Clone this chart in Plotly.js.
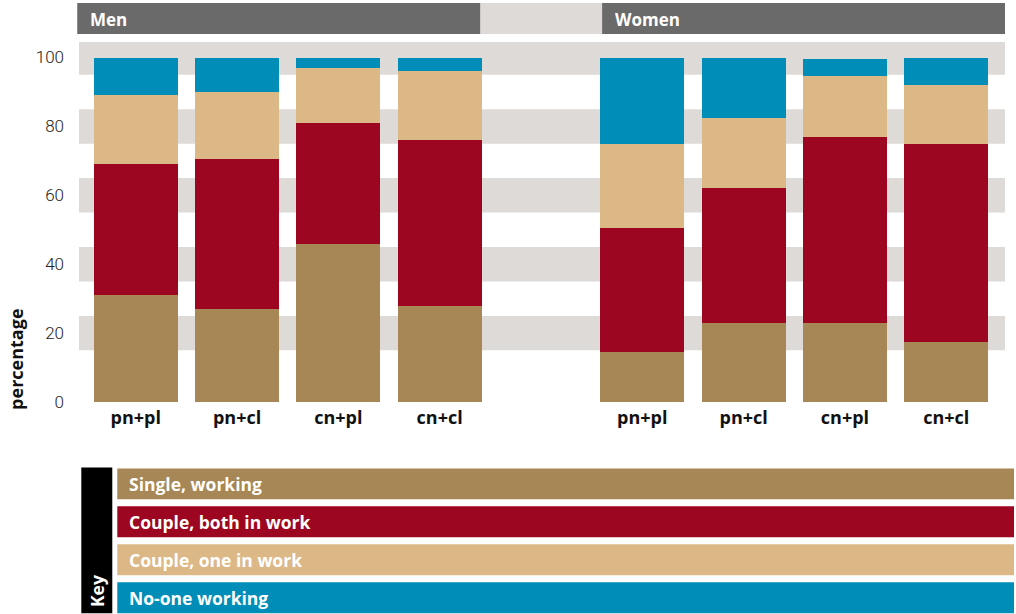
<!DOCTYPE html>
<html>
<head>
<meta charset="utf-8">
<script src="https://cdn.plot.ly/plotly-3.0.1.min.js"></script>
<style>html,body{margin:0;padding:0;background:#fff;}#chart{width:1016px;height:614px;}</style>
</head>
<body>
<div id="chart"></div>
<script>
// ---- data ----
const categories = ["pn+pl", "pn+cl", "cn+pl", "cn+cl", "pn+pl", "pn+cl", "cn+pl", "cn+cl"];
const positions = [0, 1, 2, 3, 5, 6, 7, 8];
const groups = ["Men", "Women"];
const seriesNames = ["Single, working", "Couple, both in work", "Couple, one in work", "No-one working"];
const singleWorking = [31, 27, 46, 28, 14.5, 23, 23, 17.5];
const coupleBoth = [38, 43.5, 35, 48, 36, 39, 54, 57.5];
const coupleOne = [20, 19.5, 16, 20, 24.5, 20.5, 17.5, 17];
const noOne = [11, 10, 3, 4, 25, 17.5, 5, 8];
const yTicks = [0, 20, 40, 60, 80, 100];
const keyTitle = "Key";
const yTitle = "percentage";

// ---- style ----
const colors = ["#A68755", "#9D0620", "#DDB887", "#008DB8"];
const font = "'Open Sans', Roboto, 'DejaVu Sans', sans-serif";
const tickFont = "Roboto, 'DejaVu Sans', sans-serif";
const values = [singleWorking, coupleBoth, coupleOne, noOne];

const traces = values.map((v, i) => ({
  type: "bar",
  x: positions,
  y: v,
  name: seriesNames[i],
  width: 0.83,
  marker: {color: colors[i], line: {width: 0}},
  showlegend: false,
  hoverinfo: "y+name"
}));

// plot geometry helpers (paper coords)
const PL = 78.7, PR = 1005, PT = 42, PB = 402.5;
const px = x => (x - PL) / (PR - PL);
const py = y => (PB - y) / (PB - PT);

const shapes = [];
yTicks.filter(t => t > 0).forEach(t => {
  shapes.push({type: "rect", xref: "paper", yref: "y", x0: 0, x1: 1, y0: t - 5, y1: Math.min(t + 5, 104.5),
    fillcolor: "#DEDAD7", line: {width: 0}, layer: "below"});
});
shapes.push({type: "rect", xref: "paper", yref: "paper", x0: px(77), x1: 1, y0: py(34), y1: py(3), fillcolor: "#DEDAD7", line: {width: 0}});
shapes.push({type: "rect", xref: "paper", yref: "paper", x0: px(77), x1: px(480), y0: py(34), y1: py(3), fillcolor: "#6A6A6A", line: {width: 0}});
shapes.push({type: "rect", xref: "paper", yref: "paper", x0: px(602), x1: 1, y0: py(34), y1: py(3), fillcolor: "#6A6A6A", line: {width: 0}});
shapes.push({type: "rect", xref: "paper", yref: "paper", x0: px(81), x1: px(112), y0: py(614), y1: py(468), fillcolor: "#000000", line: {width: 0}});
const rowTops = [469, 507, 545, 583];
const annotations = [];
rowTops.forEach((t, i) => {
  shapes.push({type: "rect", xref: "paper", yref: "paper", x0: px(117), x1: px(1014), y0: py(t + 31), y1: py(t), fillcolor: colors[i], line: {width: 0}});
  annotations.push({xref: "paper", yref: "paper", x: px(127), y: py(t + 15.5), xanchor: "left", yanchor: "middle",
    text: "<b>" + seriesNames[i] + "</b>", showarrow: false, font: {family: font, size: 17.5, color: "#FFFFFF"}});
});
annotations.push({xref: "paper", yref: "paper", x: px(96.5), y: py(592), xanchor: "center", yanchor: "middle", textangle: -90,
  text: "<b>" + keyTitle + "</b>", showarrow: false, font: {family: font, size: 17.5, color: "#FFFFFF"}});
annotations.push({xref: "paper", yref: "paper", x: px(88), y: py(19), xanchor: "left", yanchor: "middle",
  text: "<b>" + groups[0] + "</b>", showarrow: false, font: {family: font, size: 17, color: "#FFFFFF"}});
annotations.push({xref: "paper", yref: "paper", x: px(613), y: py(19), xanchor: "left", yanchor: "middle",
  text: "<b>" + groups[1] + "</b>", showarrow: false, font: {family: font, size: 17, color: "#FFFFFF"}});
annotations.push({xref: "paper", yref: "paper", x: px(15), y: py(360), xanchor: "center", yanchor: "middle", textangle: -90,
  text: "<b>" + yTitle + "</b>", showarrow: false, font: {family: font, size: 18, color: "#111111"}});

const layout = {
  width: 1016, height: 614,
  margin: {l: PL, r: 1016 - PR, t: PT, b: 614 - PB, pad: 0},
  paper_bgcolor: "#FFFFFF", plot_bgcolor: "rgba(0,0,0,0)",
  barmode: "stack",
  font: {family: font},
  xaxis: {range: [-0.56, 8.58], tickvals: positions, ticktext: categories.map(c => "<b>" + c + "</b>"),
    showgrid: false, zeroline: false, showline: false, ticks: "", ticklabelstandoff: 3,
    tickfont: {family: font, size: 18, color: "#111111"}, fixedrange: true},
  yaxis: {range: [0, 104.5], tickvals: yTicks, ticktext: yTicks.map(String), showgrid: false, zeroline: false,
    showline: false, ticks: "", ticklabelstandoff: 14, tickfont: {family: tickFont, size: 17, color: "#222222", weight: 300}, fixedrange: true},
  shapes: shapes,
  annotations: annotations,
  showlegend: false
};

Plotly.newPlot("chart", traces, layout, {displayModeBar: false, staticPlot: true});
</script>
</body>
</html>
